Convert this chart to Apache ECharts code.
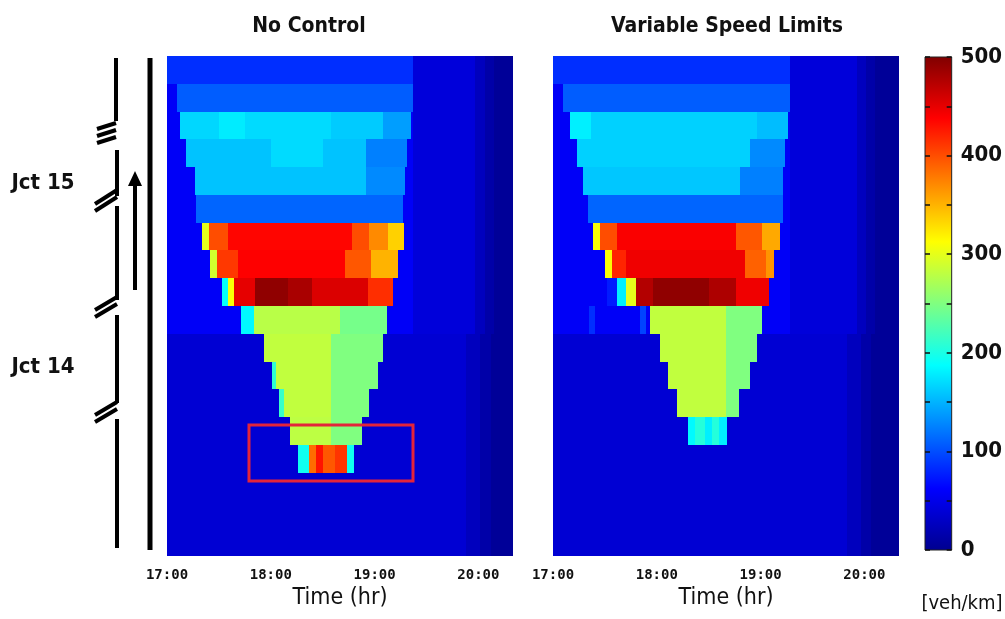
<!DOCTYPE html>
<html>
<head>
<meta charset="utf-8">
<script src="https://cdn.jsdelivr.net/npm/echarts@6/dist/echarts.min.js"></script>
<style>
  html, body { margin: 0; padding: 0; background: #fff; }
  #chart { width: 1005px; height: 619px; }
</style>
</head>
<body>
<div id="chart"></div>
<script>
// time is minutes after 17:00, rows are road sections counted from the top of the plot
const TIME_MAX = 200;
const ROWS = 18;
const UPPER_ROWS = 10;
const hourLabels = ['17:00', '18:00', '19:00', '20:00'];
const densityRange = [0, 500];

// jet colour map, evenly spaced from 0 to 500 veh/km
const JET = ['#00008f', '#0000ff', '#0080ff', '#00ffff', '#80ff80', '#ffff00', '#ff8000', '#ff0000', '#800000'];

// background density per block of rows: [start, end, density]
const noCtrlBgUpper = [[0, 142, 58], [142, 178, 42], [178, 184, 26], [184, 189, 14], [189, 200, 5]];
const noCtrlBgLower = [[0, 173, 38], [173, 181, 26], [181, 187, 14], [187, 200, 5]];
const vslBgUpper = [[0, 137, 58], [137, 176, 42], [176, 181, 26], [181, 186, 14], [186, 200, 5]];
const vslBgLower = [[0, 170, 38], [170, 178, 26], [178, 184, 14], [184, 200, 5]];

// congested stretches per row: [start, end, density]
const noControl = [
  [[0, 142, 85]],
  [[6, 142, 108]],
  [[7.5, 30, 168], [30, 45, 178], [45, 95, 170], [95, 125, 162], [125, 141, 140]],
  [[11, 60, 158], [60, 90, 170], [90, 115, 158], [115, 139, 125]],
  [[16, 115, 158], [115, 137.5, 130]],
  [[17, 136.5, 112]],
  [[20, 24, 300], [24, 35, 400], [35, 107, 435], [107, 117, 400], [117, 128, 370], [128, 137, 335]],
  [[25, 29, 290], [29, 41, 410], [41, 103, 438], [103, 118, 395], [118, 133.5, 350]],
  [[32, 35, 190], [35, 39, 310], [39, 51, 450], [51, 70, 492], [70, 84, 480], [84, 116, 455], [116, 130.5, 415]],
  [[43, 50, 185], [50, 100, 278], [100, 127, 245]],
  [[56, 95, 282], [95, 125, 250]],
  [[60.5, 63, 210], [63, 95, 282], [95, 122, 250]],
  [[65, 67.5, 215], [67.5, 95, 282], [95, 117, 250]],
  [[71, 95, 280], [95, 113, 250]],
  [[76, 82, 195], [82, 86, 385], [86, 90, 428], [90, 97, 395], [97, 104, 412], [104, 108, 195]],
  [], [], []
];

const vsl = [
  [[0, 137, 85]],
  [[6, 137, 108]],
  [[10, 22, 180], [22, 118, 165], [118, 136, 155]],
  [[14, 114, 165], [114, 134, 130]],
  [[17.5, 108, 160], [108, 133, 125]],
  [[20, 133, 112]],
  [[23, 27, 310], [27, 37, 400], [37, 106, 440], [106, 121, 395], [121, 131, 355]],
  [[30, 34, 310], [34, 42, 420], [42, 111, 445], [111, 123, 390], [123, 128, 365]],
  [[31, 37, 75], [37, 42, 180], [42, 48, 300], [48, 58, 475], [58, 90, 492], [90, 106, 478], [106, 125, 445]],
  [[21, 24, 85], [50, 54, 95], [56, 100, 282], [100, 121, 250]],
  [[62, 100, 282], [100, 118, 250]],
  [[66.5, 100, 282], [100, 114, 250]],
  [[71.5, 100, 282], [100, 107.5, 250]],
  [[78, 82, 185], [82, 88, 205], [88, 92, 180], [92, 96, 205], [96, 100.5, 180]],
  [], [], [], []
];

// highlighted bottleneck in the no-control case: [startTime, endTime, topRow, bottomRow]
const bottleneckBox = [47.4, 142.2, 13.28, 15.3];

const NARROW = '"Liberation Sans Narrow", "DejaVu Sans Condensed", "Open Sans", sans-serif';

function buildCells(rows, bgUpper, bgLower) {
  const cells = [];
  for (let r = 0; r < ROWS; r++) {
    const bg = r < UPPER_ROWS ? bgUpper : bgLower;
    bg.forEach(s => cells.push([s[0], s[1], r, s[2]]));
    (rows[r] || []).forEach(s => cells.push([s[0], s[1], r, s[2]]));
  }
  return cells;
}

function renderCell(params, api) {
  const p0 = api.coord([api.value(0), api.value(2)]);
  const p1 = api.coord([api.value(1), api.value(2) + 1]);
  const x0 = Math.round(p0[0]), x1 = Math.round(p1[0]);
  const y0 = Math.round(Math.min(p0[1], p1[1])), y1 = Math.round(Math.max(p0[1], p1[1]));
  return {
    type: 'rect',
    shape: { x: x0, y: y0, width: x1 - x0, height: y1 - y0 },
    style: { fill: api.visual('color') }
  };
}

function renderBox(params, api) {
  const p0 = api.coord([api.value(0), api.value(2)]);
  const p1 = api.coord([api.value(1), api.value(3)]);
  return {
    type: 'rect',
    shape: { x: p0[0], y: Math.min(p0[1], p1[1]), width: p1[0] - p0[0], height: Math.abs(p1[1] - p0[1]) },
    style: { fill: null, stroke: '#e3243a', lineWidth: 3 }
  };
}

function renderColorbar(params, api) {
  const p0 = api.coord([0, densityRange[1]]);
  const p1 = api.coord([1, densityRange[0]]);
  const stops = JET.map((c, i) => ({ offset: i / (JET.length - 1), color: c }));
  return {
    type: 'rect',
    shape: { x: p0[0], y: p0[1], width: p1[0] - p0[0], height: p1[1] - p0[1] },
    style: {
      fill: new echarts.graphic.LinearGradient(0, 1, 0, 0, stops),
      stroke: '#222',
      lineWidth: 1
    }
  };
}

function timeAxis(gridIndex) {
  return {
    gridIndex,
    type: 'value',
    min: 0,
    max: TIME_MAX,
    interval: 60,
    axisLine: { show: false },
    axisTick: { show: false },
    splitLine: { show: false },
    axisLabel: {
      formatter: v => (v % 60 === 0 ? hourLabels[v / 60] : ''),
      color: '#111',
      fontFamily: '"DejaVu Sans Mono", monospace',
      fontWeight: 'bold',
      fontSize: 14,
      margin: 12
    },
    name: 'Time (hr)',
    nameLocation: 'middle',
    nameGap: 31,
    nameTextStyle: { fontFamily: NARROW, fontSize: 23, color: '#111' }
  };
}

function rowAxis(gridIndex) {
  return { gridIndex, type: 'value', min: 0, max: ROWS, inverse: true, show: false };
}

function densityAxis(position, showLabels) {
  return {
    gridIndex: 2, type: 'value', position, z: 10,
    min: densityRange[0], max: densityRange[1], interval: 50,
    axisLine: { show: false, onZero: false },
    axisTick: { show: true, inside: true, length: 5, lineStyle: { color: '#111', width: 1.5 } },
    splitLine: { show: false },
    axisLabel: {
      show: showLabels,
      formatter: v => (v % 100 === 0 ? String(v) : ''),
      color: '#111', fontFamily: NARROW, fontWeight: 'bold', fontSize: 22, margin: 9
    }
  };
}

function seg(x1, y1, x2, y2, w) {
  return { type: 'line', shape: { x1, y1, x2, y2 }, style: { stroke: '#000', lineWidth: w || 4 } };
}
function label(text, x, y, size, weight) {
  return {
    type: 'text', x, y,
    style: { text, fontSize: size, fontFamily: NARROW, fontWeight: weight || 'bold', fill: '#111', align: 'center', verticalAlign: 'middle' }
  };
}

const chart = echarts.init(document.getElementById('chart'));
chart.setOption({
  backgroundColor: '#fff',
  animation: false,
  grid: [
    { left: 167, top: 56, width: 346, height: 500 },
    { left: 553, top: 56, width: 346, height: 500 },
    { left: 925, top: 57, width: 33, height: 493 }
  ],
  xAxis: [
    timeAxis(0),
    timeAxis(1),
    { gridIndex: 2, type: 'value', min: 0, max: 1, show: false }
  ],
  yAxis: [
    rowAxis(0),
    rowAxis(1),
    densityAxis('right', true),
    densityAxis('left', false)
  ],
  visualMap: {
    type: 'continuous',
    show: false,
    min: densityRange[0],
    max: densityRange[1],
    dimension: 3,
    seriesIndex: [0, 1],
    inRange: { color: JET }
  },
  series: [
    {
      name: 'No Control',
      type: 'custom',
      xAxisIndex: 0, yAxisIndex: 0,
      renderItem: renderCell,
      encode: { x: [0, 1], y: 2 },
      data: buildCells(noControl, noCtrlBgUpper, noCtrlBgLower)
    },
    {
      name: 'Variable Speed Limits',
      type: 'custom',
      xAxisIndex: 1, yAxisIndex: 1,
      renderItem: renderCell,
      encode: { x: [0, 1], y: 2 },
      data: buildCells(vsl, vslBgUpper, vslBgLower)
    },
    {
      type: 'custom',
      xAxisIndex: 2, yAxisIndex: 2,
      renderItem: renderColorbar,
      z: 1,
      data: [[0, 1, densityRange[0], densityRange[1]]],
      silent: true
    },
    {
      type: 'custom',
      xAxisIndex: 0, yAxisIndex: 0,
      renderItem: renderBox,
      encode: { x: [0, 1], y: [2, 3] },
      z: 5,
      data: [bottleneckBox],
      silent: true
    }
  ],
  graphic: [
    label('No Control', 309, 27, 21),
    label('Variable Speed Limits', 727, 27, 21),
    label('Jct 15', 43, 183, 22),
    label('Jct 14', 43, 367, 22),
    label('[veh/km]', 962, 604, 20, 'normal'),
    // road schematic
    seg(150, 58, 150, 550, 5),
    seg(116, 58, 116, 121),
    seg(97, 129, 116, 123),
    seg(97, 136, 116, 130),
    seg(97, 143, 116, 137),
    seg(117, 150, 117, 196),
    seg(95, 211, 117, 197),
    seg(95, 204, 117, 190),
    seg(117, 206, 117, 300),
    seg(95, 317, 117, 304),
    seg(95, 310, 117, 297),
    seg(117, 315, 117, 403),
    seg(95, 422, 117, 409),
    seg(95, 415, 117, 402),
    seg(117, 419, 117, 548),
    // travel direction arrow
    seg(135, 290, 135, 182),
    { type: 'polygon', shape: { points: [[128, 186], [142, 186], [135, 171]] }, style: { fill: '#000' } }
  ]
});
</script>
</body>
</html>
